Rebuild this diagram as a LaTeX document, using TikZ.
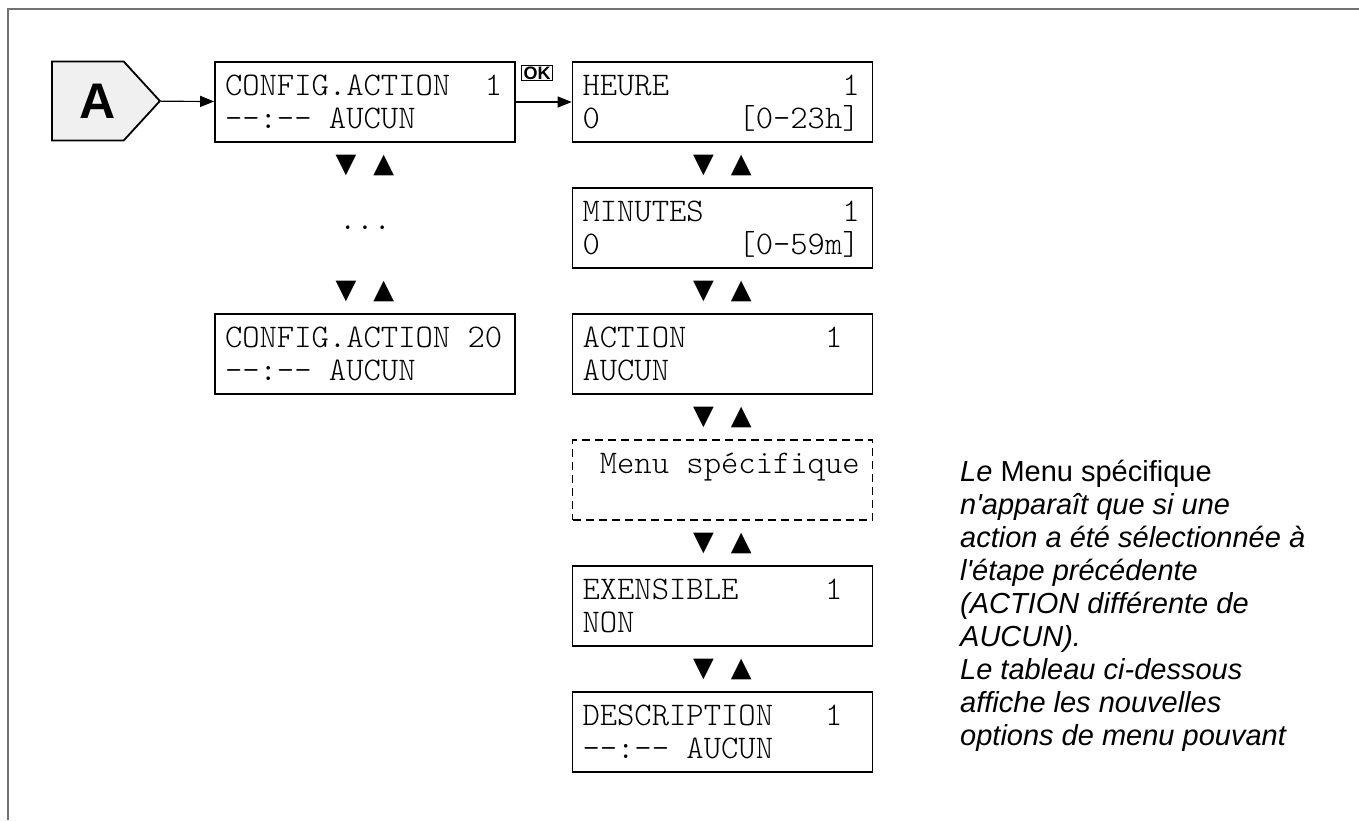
\documentclass[tikz,border=0pt]{standalone}
\usepackage{fontspec}
\newfontfamily\arialfont{Liberation Sans}
\newfontfamily\symfont{DejaVu Sans}
\newfontfamily\lcdfont{lmmonolt10-regular.otf}
\usetikzlibrary{arrows.meta,shapes.symbols}

% two lines of the display, same baselines in every box,
% every blank as wide as one character
\newcommand{\lcdtext}[2]{\spaceskip=\fontcharwd\font`0\relax
  \rule{0pt}{28pt}#1\\#2\rule[-9pt]{0pt}{9pt}}
\newcommand{\lcdsize}{\fontsize{33}{33}\selectfont\lcdfont}

\tikzset{
  lcd/.style={draw, line width=1.7pt, text width=280pt, inner xsep=10pt,
    inner ysep=0pt, minimum height=80pt, align=left, font=\lcdsize},
  lcdopt/.style={lcd, line width=1.2pt, dash pattern=on 8pt off 5pt},
  updown/.style={inner sep=0pt, font=\fontsize{27}{27}\selectfont\symfont},
  okbox/.style={draw, line width=1pt, inner xsep=2pt, inner ysep=1.2pt,
    text height=13pt, text depth=0pt, font=\fontsize{18}{18}\selectfont\arialfont\bfseries},
  badge/.style={draw, line width=1.8pt, fill=black!6, signal, signal to=east,
    signal pointer angle=95, minimum width=108pt, minimum height=79pt, inner sep=0pt,
    font=\fontsize{50}{50}\selectfont\arialfont\bfseries}
}

\begin{document}
\begin{tikzpicture}[
    x=1pt, y=1pt,
    >={Triangle[length=14pt,width=11pt]}
]
\useasboundingbox (0,0) rectangle (1359,-820);
\draw[black!55, line width=2pt] (8,-820) -- (8,-9) -- (1359,-9);

\node[badge, anchor=west] (a) at (51,-101) {\hspace{20pt}A};

\node[lcd] (cfg1) at (365,-102) {\lcdtext{CONFIG.ACTION~~1}{-{}-:-{}-~AUCUN}};
\node[updown] (ud1) at (365,-165) {▼\hspace{17pt}▲};
\node[font=\lcdsize] (dots) at (365,-228) {...};
\node[updown] (ud2) at (365,-291) {▼\hspace{17pt}▲};
\node[lcd] (cfg20) at (365,-354) {\lcdtext{CONFIG.ACTION~20}{-{}-:-{}-~AUCUN}};

\node[lcd] (heure) at (722.5,-102) {\lcdtext{HEURE~~~~~~~~~~1}{0~~~~~~~~[0-23h]}};
\node[updown] (ud3) at (722.5,-165) {▼\hspace{17pt}▲};
\node[lcd] (minutes) at (722.5,-228) {\lcdtext{MINUTES~~~~~~~~1}{0~~~~~~~~[0-59m]}};
\node[updown] (ud4) at (722.5,-291) {▼\hspace{17pt}▲};
\node[lcd] (action) at (722.5,-354) {\lcdtext{ACTION~~~~~~~~1}{AUCUN}};
\node[updown] (ud5) at (722.5,-417) {▼\hspace{17pt}▲};
\node[lcdopt] (specif) at (722.5,-480) {\lcdtext{~Menu~spécifique}{}};
\node[updown] (ud6) at (722.5,-543) {▼\hspace{17pt}▲};
\node[lcd] (extens) at (722.5,-606) {\lcdtext{EXENSIBLE~~~~~1}{NON}};
\node[updown] (ud7) at (722.5,-669) {▼\hspace{17pt}▲};
\node[lcd] (descr) at (722.5,-732) {\lcdtext{DESCRIPTION~~~1}{-{}-:-{}-~AUCUN}};

\node[okbox] (ok) at (537,-73) {OK};

\node[anchor=north west, align=left, inner sep=0pt,
  font=\fontsize{29}{33}\selectfont\arialfont\itshape] (note) at (960,-460)
  {Le \textup{Menu spécifique}\\
   n'apparaît que si une\\
   action a été sélectionnée à\\
   l'étape précédente\\
   (ACTION différente de\\
   AUCUN).\\
   Le tableau ci-dessous\\
   affiche les nouvelles\\
   options de menu pouvant};

\draw[->, line width=1.2pt] (a) -- (cfg1);
\draw[->, line width=1.2pt] (cfg1) -- (heure);

\end{tikzpicture}
\end{document}
